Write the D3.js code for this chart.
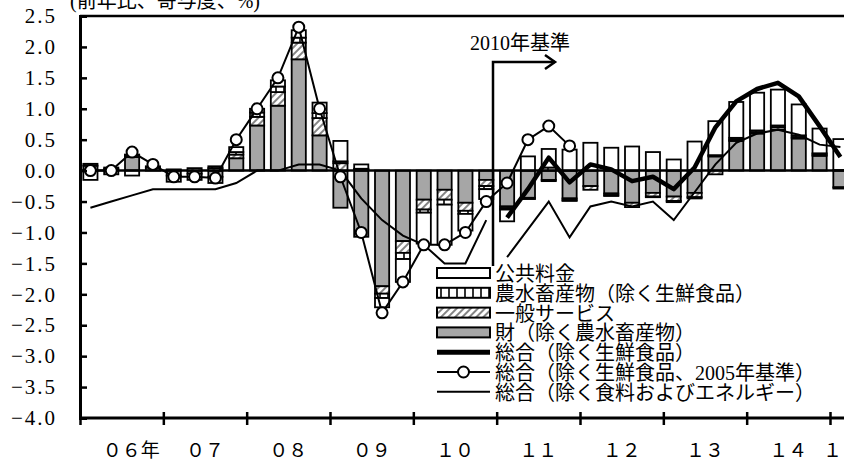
<!DOCTYPE html>
<html lang="ja">
<head>
<meta charset="utf-8">
<title>消費者物価</title>
<script src="https://cdn.jsdelivr.net/npm/d3@7"></script>
<style>
  body { margin: 0; background: #fff; }
  text { font-family: "Liberation Serif", "Noto Sans CJK JP", serif; fill: #000; }
</style>
</head>
<body>
<svg width="844" height="460" id="mainsvg"></svg>
<script>
// 四半期
const quarters = ['06Q1','06Q2','06Q3','06Q4','07Q1','07Q2','07Q3','07Q4',
  '08Q1','08Q2','08Q3','08Q4','09Q1','09Q2','09Q3','09Q4',
  '10Q1','10Q2','10Q3','10Q4','11Q1','11Q2','11Q3','11Q4',
  '12Q1','12Q2','12Q3','12Q4','13Q1','13Q2','13Q3','13Q4',
  '14Q1','14Q2','14Q3','14Q4','15Q1'];
const years = ['2006','2007','2008','2009','2010','2011','2012','2013','2014','2015'];
const yearLabels = ['０６年','０７','０８','０９','１０','１１','１２','１３','１４','１５'];
const yTicks = [2.5, 2.0, 1.5, 1.0, 0.5, 0.0, -0.5, -1.0, -1.5, -2.0, -2.5, -3.0, -3.5, -4.0];

// 寄与度（棒）
const goods = [0.08, 0.03, 0.22, 0.05, -0.08, -0.05, -0.1, 0.2, 0.73, 1.05, 1.8, 0.57,
  -0.6, -1.07, -1.87, -1.14, -0.47, -0.31, -0.52, -0.15, -0.58, -0.44, -0.15, -0.45,
  -0.25, -0.37, -0.52, -0.36, -0.42, -0.36, 0.23, 0.48, 0.6, 0.66, 0.52, 0.24, -0.27];
const services = [0.03, 0.02, 0.03, 0.02, 0.02, 0.04, 0.04, 0.06, 0.14, 0.22, 0.27, 0.28,
  0.12, 0.02, -0.12, -0.19, -0.16, -0.16, -0.13, -0.1, -0.03, -0.02, -0.02, -0.03,
  -0.06, -0.03, -0.07, -0.06, -0.07, -0.07, -0.06, 0.02, 0.02, 0.04, 0.02, 0.02, -0.02];
const agri = [0.0, 0.0, 0.01, 0.0, 0.0, 0.0, 0.03, 0.04, 0.07, 0.09, 0.08, 0.08,
  0.03, 0.01, -0.07, -0.1, -0.05, -0.08, -0.05, -0.05, -0.02, 0.0, 0.05, -0.01,
  0.0, -0.01, 0.0, -0.01, -0.02, -0.02, 0.02, 0.03, 0.03, 0.03, 0.03, 0.02, 0.01];
const publicFees = [-0.15, -0.06, -0.08, 0.0, -0.1, -0.1, -0.1, 0.08, 0.06, 0.1, 0.12, 0.17,
  0.33, 0.07, -0.15, -0.37, -0.5, -0.65, -0.27, -0.16, -0.19, 0.23, 0.3, 0.34,
  0.45, 0.37, 0.39, 0.3, 0.18, 0.47, 0.55, 0.58, 0.61, 0.58, 0.5, 0.4, 0.5];

// 折れ線
const core2005 = [0.0, 0.0, 0.3, 0.1, -0.1, -0.1, -0.12, 0.5, 1.0, 1.5, 2.32, 1.0,
  -0.1, -1.0, -2.3, -1.8, -1.2, -1.2, -1.0, -0.5, -0.2, 0.5, 0.72, 0.4];
const core2010 = [-0.76, -0.3, 0.21, -0.19, 0.1, 0.02, -0.17, -0.1, -0.3,
  0.05, 0.7, 1.12, 1.32, 1.42, 1.2, 0.72, 0.22];
const coreCoreOld = [-0.6, -0.5, -0.4, -0.3, -0.3, -0.3, -0.3, -0.2, 0.0, 0.0, 0.1, 0.1,
  0.0, -0.45, -0.8, -1.05, -1.2, -1.5, -1.5, -0.8];
const coreCoreNew = [-1.4, -0.95, -0.5, -1.08, -0.58, -0.5, -0.58, -0.5, -0.8,
  -0.35, 0.1, 0.45, 0.6, 0.66, 0.58, 0.42, 0.38];

const svg = d3.select('#mainsvg');
const margin = { top: 16, left: 80, bottom: 42 };
const height = +svg.attr('height');
const qw = 750 / 36;

const x = d3.scaleBand().domain(quarters)
  .range([margin.left, margin.left + quarters.length * qw])
  .paddingInner(0.32).paddingOuter(0.16);
const cx = q => x(q) + x.bandwidth() / 2;
const xYear = d3.scaleLinear().domain([2006, 2015]).range([margin.left, margin.left + 750]);
const y = d3.scaleLinear().domain([-4, 2.5]).range([height - margin.bottom, margin.top]);

// パターン
const defs = svg.append('defs');
const hatch = defs.append('pattern').attr('id', 'hatch')
  .attr('width', 5).attr('height', 5).attr('patternUnits', 'userSpaceOnUse')
  .attr('patternTransform', 'rotate(45)');
hatch.append('rect').attr('width', 5).attr('height', 5).attr('fill', '#fff');
hatch.append('line').attr('x1', 1).attr('x2', 1).attr('y1', 0).attr('y2', 5)
  .attr('stroke', '#777').attr('stroke-width', 1.8);
const vstripe = defs.append('pattern').attr('id', 'vstripe')
  .attr('width', 8).attr('height', 8).attr('patternUnits', 'userSpaceOnUse');
vstripe.append('rect').attr('width', 8).attr('height', 8).attr('fill', '#fff');
vstripe.append('line').attr('x1', 4).attr('x2', 4).attr('y1', 0).attr('y2', 8)
  .attr('stroke', '#000').attr('stroke-width', 1.6);

const keys = ['goods', 'services', 'agri', 'public'];
const fills = { goods: '#a6a6a6', services: 'url(#hatch)', agri: 'url(#vstripe)', public: '#fff' };
const rows = quarters.map((q, i) => ({
  q, goods: goods[i], services: services[i], agri: agri[i], public: publicFees[i]
}));
const series = d3.stack().keys(keys).offset(d3.stackOffsetDiverging)(rows);

// 棒
const gBars = svg.append('g');
series.forEach(s => {
  gBars.append('g').selectAll('rect').data(s.filter(d => d[0] !== d[1])).join('rect')
    .attr('x', d => x(d.data.q))
    .attr('width', x.bandwidth())
    .attr('y', d => y(Math.max(d[0], d[1])))
    .attr('height', d => Math.abs(y(d[0]) - y(d[1])))
    .attr('fill', fills[s.key])
    .attr('stroke', '#000').attr('stroke-width', 1.8);
});

// ゼロ線
svg.append('line').attr('x1', margin.left).attr('x2', 844)
  .attr('y1', y(0)).attr('y2', y(0)).attr('stroke', '#000').attr('stroke-width', 2.5);

// 折れ線
const line = d3.line().x(d => cx(d.q)).y(d => y(d.v));
const toPts = (vals, start) => vals.map((v, i) => ({ q: quarters[start + i], v }));
svg.append('path').attr('d', line(toPts(coreCoreOld, 0)))
  .attr('fill', 'none').attr('stroke', '#000').attr('stroke-width', 2);
svg.append('path').attr('d', line(toPts(coreCoreNew, 20)))
  .attr('fill', 'none').attr('stroke', '#000').attr('stroke-width', 2);
svg.append('path').attr('d', line(toPts(core2005, 0)))
  .attr('fill', 'none').attr('stroke', '#000').attr('stroke-width', 2);
svg.append('g').selectAll('circle').data(toPts(core2005, 0)).join('circle')
  .attr('cx', d => cx(d.q)).attr('cy', d => y(d.v)).attr('r', 5.5)
  .attr('fill', '#fff').attr('stroke', '#000').attr('stroke-width', 2);
svg.append('path').attr('d', line(toPts(core2010, 20)))
  .attr('fill', 'none').attr('stroke', '#000').attr('stroke-width', 4.5)
  .attr('stroke-linejoin', 'round');

// 軸
svg.append('line').attr('x1', margin.left).attr('x2', 844)
  .attr('y1', margin.top).attr('y2', margin.top).attr('stroke', '#000').attr('stroke-width', 2.5);
const yAxis = d3.axisLeft(y).tickValues(yTicks).tickSize(-7).tickPadding(23)
  .tickFormat(d3.format('.1f'));
const gy = svg.append('g').attr('transform', `translate(${margin.left},0)`).call(yAxis);
gy.select('.domain').attr('stroke-width', 3);
gy.selectAll('.tick line').attr('stroke-width', 2.5);
gy.selectAll('.tick text').attr('font-size', 21).attr('letter-spacing', 2)
  .attr('font-family', '"Liberation Serif", serif');

const gx = svg.append('g').attr('transform', `translate(0,${y(-4)})`)
  .call(d3.axisBottom(xYear).tickValues(d3.range(2006, 2016)).tickSize(7).tickFormat(''));
gx.select('.domain').remove();
gx.append('line').attr('x1', margin.left).attr('x2', 844).attr('stroke', '#000').attr('stroke-width', 3);
gx.selectAll('.tick line').attr('y1', -6).attr('stroke-width', 2.5);

svg.append('g').selectAll('text').data(yearLabels).join('text')
  .attr('x', (d, i) => i === 0 ? xYear(2006.5) - 19
    : i === 9 ? (xYear(2015) + x(quarters[36]) + x.step()) / 2 : xYear(2006.5 + i))
  .attr('y', 457)
  .attr('text-anchor', (d, i) => i === 0 ? 'start' : 'middle')
  .attr('font-size', 19)
  .attr('font-family', '"Noto Sans CJK JP", sans-serif')
  .text(d => d);

// 見出し
svg.append('text').attr('x', 70).attr('y', 8).attr('font-size', 20).text('(前年比、寄与度、%)');

// 2010年基準
svg.append('text').attr('x', 470).attr('y', 50).attr('font-size', 20).text('2010年基準');
svg.append('path').attr('d', 'M493,266V62H555').attr('fill', 'none')
  .attr('stroke', '#000').attr('stroke-width', 2.5);
svg.append('path').attr('d', 'M545,55L555,62L545,69').attr('fill', 'none')
  .attr('stroke', '#000').attr('stroke-width', 2.5);

// 凡例
const legendItems = [
  { label: '公共料金', type: 'rect', fill: fills.public },
  { label: '農水畜産物（除く生鮮食品）', type: 'rect', fill: fills.agri },
  { label: '一般サービス', type: 'rect', fill: fills.services },
  { label: '財（除く農水畜産物）', type: 'rect', fill: fills.goods },
  { label: '総合（除く生鮮食品）', type: 'line', w: 5 },
  { label: '総合（除く生鮮食品、2005年基準）', type: 'circle', w: 2 },
  { label: '総合（除く食料およびエネルギー）', type: 'line', w: 2 }
];
const lg = svg.append('g').attr('transform', 'translate(437,273)');
legendItems.forEach((d, i) => {
  const row = lg.append('g').attr('transform', `translate(0,${i * 19.8})`);
  if (d.type === 'rect') {
    row.append('rect').attr('x', 0).attr('y', -5).attr('width', 53).attr('height', 10)
      .attr('fill', d.fill).attr('stroke', '#000').attr('stroke-width', 2);
  } else {
    row.append('line').attr('x1', 0).attr('x2', 53).attr('stroke', '#000').attr('stroke-width', d.w);
    if (d.type === 'circle') {
      row.append('circle').attr('cx', 26.5).attr('r', 5.5)
        .attr('fill', '#fff').attr('stroke', '#000').attr('stroke-width', 2);
    }
  }
  row.append('text').attr('x', 58).attr('y', 8).attr('font-size', 20).text(d.label);
});
</script>
</body>
</html>
